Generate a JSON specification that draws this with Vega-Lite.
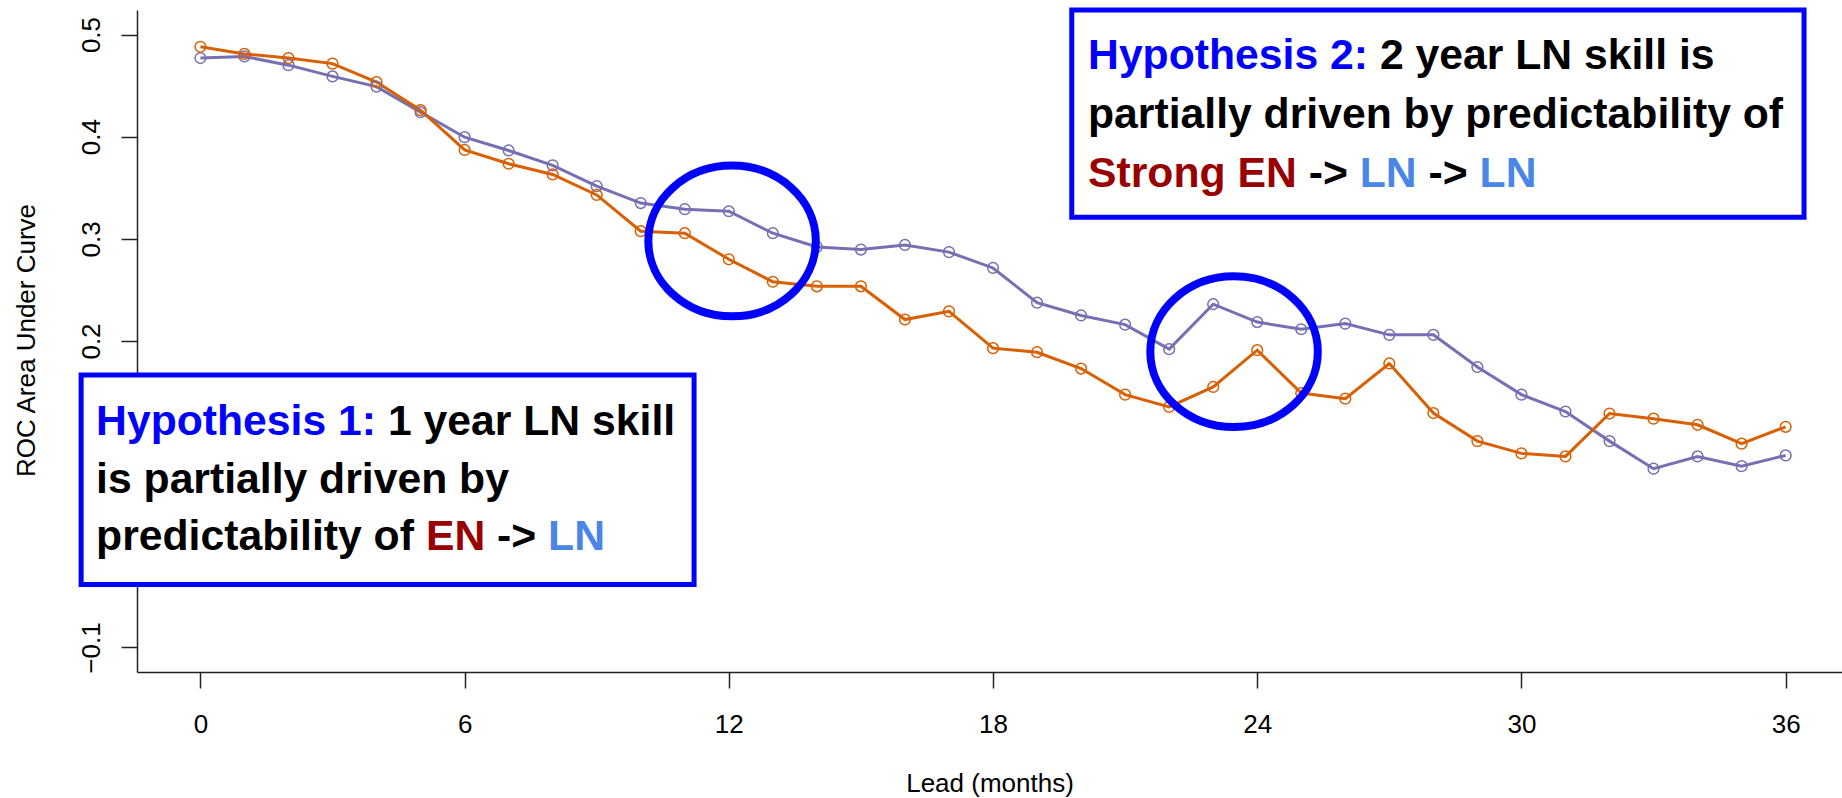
{
  "$schema": "https://vega.github.io/schema/vega-lite/v6.json",
  "width": 1705,
  "height": 662,
  "autosize": {"type": "none"},
  "padding": {"left": 137, "top": 10, "right": 0, "bottom": 126},
  "background": "white",
  "datasets": {
    "series": [
      {"lead": 0, "series": "A", "auc": 0.477}, {"lead": 1, "series": "A", "auc": 0.4785}, {"lead": 2, "series": "A", "auc": 0.470}, {"lead": 3, "series": "A", "auc": 0.459}, {"lead": 4, "series": "A", "auc": 0.449}, {"lead": 5, "series": "A", "auc": 0.424}, {"lead": 6, "series": "A", "auc": 0.3995}, {"lead": 7, "series": "A", "auc": 0.3865}, {"lead": 8, "series": "A", "auc": 0.372}, {"lead": 9, "series": "A", "auc": 0.3515}, {"lead": 10, "series": "A", "auc": 0.335}, {"lead": 11, "series": "A", "auc": 0.329}, {"lead": 12, "series": "A", "auc": 0.327}, {"lead": 13, "series": "A", "auc": 0.3055}, {"lead": 14, "series": "A", "auc": 0.292}, {"lead": 15, "series": "A", "auc": 0.2895}, {"lead": 16, "series": "A", "auc": 0.294}, {"lead": 17, "series": "A", "auc": 0.287}, {"lead": 18, "series": "A", "auc": 0.2715}, {"lead": 19, "series": "A", "auc": 0.2375}, {"lead": 20, "series": "A", "auc": 0.225}, {"lead": 21, "series": "A", "auc": 0.216}, {"lead": 22, "series": "A", "auc": 0.192}, {"lead": 23, "series": "A", "auc": 0.236}, {"lead": 24, "series": "A", "auc": 0.2185}, {"lead": 25, "series": "A", "auc": 0.2115}, {"lead": 26, "series": "A", "auc": 0.217}, {"lead": 27, "series": "A", "auc": 0.206}, {"lead": 28, "series": "A", "auc": 0.206}, {"lead": 29, "series": "A", "auc": 0.1745}, {"lead": 30, "series": "A", "auc": 0.1475}, {"lead": 31, "series": "A", "auc": 0.131}, {"lead": 32, "series": "A", "auc": 0.102}, {"lead": 33, "series": "A", "auc": 0.075}, {"lead": 34, "series": "A", "auc": 0.087}, {"lead": 35, "series": "A", "auc": 0.0775}, {"lead": 36, "series": "A", "auc": 0.088},
      {"lead": 0, "series": "B", "auc": 0.488}, {"lead": 1, "series": "B", "auc": 0.481}, {"lead": 2, "series": "B", "auc": 0.477}, {"lead": 3, "series": "B", "auc": 0.4715}, {"lead": 4, "series": "B", "auc": 0.4535}, {"lead": 5, "series": "B", "auc": 0.426}, {"lead": 6, "series": "B", "auc": 0.387}, {"lead": 7, "series": "B", "auc": 0.3735}, {"lead": 8, "series": "B", "auc": 0.363}, {"lead": 9, "series": "B", "auc": 0.343}, {"lead": 10, "series": "B", "auc": 0.3075}, {"lead": 11, "series": "B", "auc": 0.3055}, {"lead": 12, "series": "B", "auc": 0.28}, {"lead": 13, "series": "B", "auc": 0.258}, {"lead": 14, "series": "B", "auc": 0.2535}, {"lead": 15, "series": "B", "auc": 0.2535}, {"lead": 16, "series": "B", "auc": 0.221}, {"lead": 17, "series": "B", "auc": 0.229}, {"lead": 18, "series": "B", "auc": 0.193}, {"lead": 19, "series": "B", "auc": 0.189}, {"lead": 20, "series": "B", "auc": 0.173}, {"lead": 21, "series": "B", "auc": 0.1475}, {"lead": 22, "series": "B", "auc": 0.1355}, {"lead": 23, "series": "B", "auc": 0.155}, {"lead": 24, "series": "B", "auc": 0.191}, {"lead": 25, "series": "B", "auc": 0.149}, {"lead": 26, "series": "B", "auc": 0.1435}, {"lead": 27, "series": "B", "auc": 0.178}, {"lead": 28, "series": "B", "auc": 0.1295}, {"lead": 29, "series": "B", "auc": 0.102}, {"lead": 30, "series": "B", "auc": 0.090}, {"lead": 31, "series": "B", "auc": 0.087}, {"lead": 32, "series": "B", "auc": 0.129}, {"lead": 33, "series": "B", "auc": 0.124}, {"lead": 34, "series": "B", "auc": 0.118}, {"lead": 35, "series": "B", "auc": 0.0995}, {"lead": 36, "series": "B", "auc": 0.116}
    ],
    "ellipses": [
      {"lead": 12.074, "auc": 0.2979},
      {"lead": 23.474, "auc": 0.1895}
    ],
    "boxes": [
      {"lead": -2.709, "lead2": 11.211, "auc": 0.1667, "auc2": -0.0384},
      {"lead": 19.788, "lead2": 36.418, "auc": 0.524, "auc2": 0.3211}
    ],
    "labels": [
      {"lead": -2.369, "auc": 0.1077, "text": "Hypothesis 1:", "role": "heading"},
      {"lead": 4.260, "auc": 0.1077, "text": "1 year LN skill", "role": "body"},
      {"lead": -2.369, "auc": 0.0515, "text": "is partially driven by", "role": "body"},
      {"lead": -2.369, "auc": -0.0049, "text": "predictability of", "role": "body"},
      {"lead": 5.121, "auc": -0.0049, "text": "EN", "role": "EN"},
      {"lead": 6.737, "auc": -0.0049, "text": "->", "role": "body"},
      {"lead": 7.896, "auc": -0.0049, "text": "LN", "role": "LN"},
      {"lead": 20.158, "auc": 0.4658, "text": "Hypothesis 2:", "role": "heading"},
      {"lead": 26.787, "auc": 0.4658, "text": "2 year LN skill is", "role": "body"},
      {"lead": 20.158, "auc": 0.4085, "text": "partially driven by predictability of", "role": "body"},
      {"lead": 20.158, "auc": 0.3512, "text": "Strong EN", "role": "EN"},
      {"lead": 25.170, "auc": 0.3512, "text": "->", "role": "body"},
      {"lead": 26.328, "auc": 0.3512, "text": "LN", "role": "LN"},
      {"lead": 27.891, "auc": 0.3512, "text": "->", "role": "body"},
      {"lead": 29.049, "auc": 0.3512, "text": "LN", "role": "LN"}
    ]
  },
  "config": {
    "view": {"stroke": null},
    "font": "Liberation Sans",
    "axis": {
      "grid": false,
      "domainColor": "#222222",
      "domainWidth": 1.5,
      "tickColor": "#222222",
      "tickWidth": 1.5,
      "tickSize": 16,
      "labelFont": "Liberation Sans",
      "labelFontSize": 26,
      "labelColor": "#000000",
      "titleFont": "Liberation Sans",
      "titleFontSize": 26,
      "titleFontWeight": "normal",
      "titleColor": "#000000",
      "labelOverlap": false,
      "labelFlush": false
    },
    "axisX": {
      "labelPadding": 23,
      "labelBaseline": "top",
      "labelAngle": 0,
      "titleY": 119,
      "titleBaseline": "alphabetic"
    },
    "axisY": {
      "labelAngle": -90,
      "labelAlign": "center",
      "labelBaseline": "middle",
      "labelPadding": 29.5,
      "titleAngle": -90,
      "titleX": -110.5,
      "titleY": 330,
      "titleAlign": "center",
      "titleBaseline": "middle"
    }
  },
  "layer": [
    {
      "mark": {"type": "rule", "color": "#222222", "strokeWidth": 1.5},
      "encoding": {
        "y": {"datum": 0, "type": "quantitative", "title": "ROC Area Under Curve",
              "scale": {"domain": [-0.124, 0.524], "nice": false, "zero": false},
              "axis": {"values": [-0.1, 0, 0.1, 0.2, 0.3, 0.4, 0.5], "format": ".1f", "title": "ROC Area Under Curve"}}
      }
    },
    {
      "mark": {"type": "rule", "color": "#222222", "strokeWidth": 1.5},
      "encoding": {
        "y": {"datum": 0.524, "type": "quantitative", "title": "ROC Area Under Curve",
              "scale": {"domain": [-0.124, 0.524], "nice": false, "zero": false}}
      }
    },
    {
      "data": {"name": "series"},
      "mark": {"type": "line", "strokeWidth": 3},
      "encoding": {
        "x": {"field": "lead", "type": "quantitative", "title": "Lead (months)",
              "scale": {"domain": [-1.44, 37.28], "nice": false, "zero": false},
              "axis": {"values": [0, 6, 12, 18, 24, 30, 36], "title": "Lead (months)"}},
        "y": {"field": "auc", "type": "quantitative", "title": "ROC Area Under Curve",
              "scale": {"domain": [-0.124, 0.524], "nice": false, "zero": false}},
        "color": {"field": "series", "type": "nominal",
                  "scale": {"domain": ["A", "B"], "range": ["#7570B3", "#D95F02"]}, "legend": null}
      }
    },
    {
      "data": {"name": "series"},
      "mark": {"type": "point", "filled": false, "size": 115, "strokeWidth": 1.5, "opacity": 1},
      "encoding": {
        "x": {"field": "lead", "type": "quantitative", "title": "Lead (months)",
              "scale": {"domain": [-1.44, 37.28], "nice": false, "zero": false}},
        "y": {"field": "auc", "type": "quantitative", "title": "ROC Area Under Curve",
              "scale": {"domain": [-0.124, 0.524], "nice": false, "zero": false}},
        "color": {"field": "series", "type": "nominal",
                  "scale": {"domain": ["A", "B"], "range": ["#7570B3", "#D95F02"]}, "legend": null}
      }
    },
    {
      "data": {"name": "ellipses"},
      "mark": {"type": "point", "filled": false, "color": "#0000ff", "opacity": 1, "strokeWidth": 8, "size": 28056,
               "shape": "M1,0C1,0.497 0.552,0.9 0,0.9C-0.552,0.9 -1,0.497 -1,0C-1,-0.497 -0.552,-0.9 0,-0.9C0.552,-0.9 1,-0.497 1,0Z"},
      "encoding": {
        "x": {"field": "lead", "type": "quantitative", "title": "Lead (months)",
              "scale": {"domain": [-1.44, 37.28], "nice": false, "zero": false}},
        "y": {"field": "auc", "type": "quantitative", "title": "ROC Area Under Curve",
              "scale": {"domain": [-0.124, 0.524], "nice": false, "zero": false}}
      }
    },
    {
      "data": {"name": "boxes"},
      "mark": {"type": "rect", "fill": "#ffffff", "stroke": "#0000ff", "strokeWidth": 5},
      "encoding": {
        "x": {"field": "lead", "type": "quantitative", "title": "Lead (months)",
              "scale": {"domain": [-1.44, 37.28], "nice": false, "zero": false}},
        "x2": {"field": "lead2"},
        "y": {"field": "auc", "type": "quantitative", "title": "ROC Area Under Curve",
              "scale": {"domain": [-0.124, 0.524], "nice": false, "zero": false}},
        "y2": {"field": "auc2"}
      }
    },
    {
      "data": {"name": "labels"},
      "mark": {"type": "text", "font": "Liberation Sans", "fontWeight": "bold", "fontSize": 42.7, "align": "left", "baseline": "alphabetic"},
      "encoding": {
        "x": {"field": "lead", "type": "quantitative", "title": "Lead (months)",
              "scale": {"domain": [-1.44, 37.28], "nice": false, "zero": false}},
        "y": {"field": "auc", "type": "quantitative", "title": "ROC Area Under Curve",
              "scale": {"domain": [-0.124, 0.524], "nice": false, "zero": false}},
        "text": {"field": "text", "type": "nominal"},
        "fill": {"field": "role", "type": "nominal",
                 "scale": {"domain": ["heading", "body", "EN", "LN"], "range": ["#0000ff", "#000000", "#990000", "#4a86e8"]}, "legend": null}
      }
    }
  ]
}
